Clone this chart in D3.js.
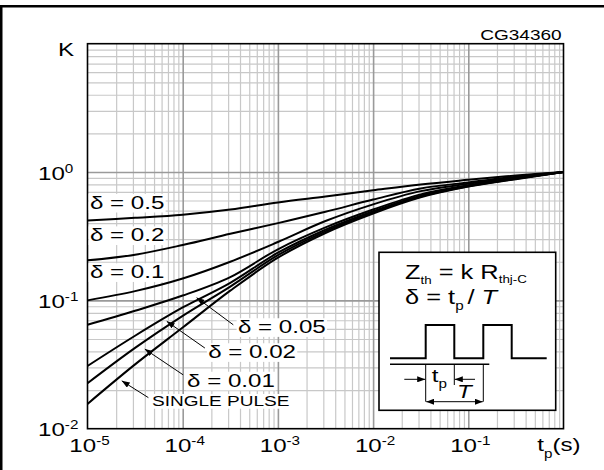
<!DOCTYPE html>
<html>
<head>
<meta charset="utf-8">
<script src="https://cdn.jsdelivr.net/npm/d3@7"></script>
<style>
  body { margin: 0; background: #fff; }
  text { font-family: "Liberation Sans", Arial, sans-serif; fill: #000; white-space: pre; }
</style>
</head>
<body>
<div id="chart"></div>
<script>
// pulse duration tp (s), half-decade steps
var tp = [1e-5, 3.16e-5, 1e-4, 3.16e-4, 1e-3, 3.16e-3, 1e-2, 3.16e-2, 1e-1, 3.16e-1, 1];

// K for each duty cycle
var k050 = [0.42, 0.44, 0.465, 0.51, 0.58, 0.645, 0.72, 0.80, 0.87, 0.94, 1.0];
var k020 = [0.205, 0.227, 0.27, 0.33, 0.40, 0.49, 0.61, 0.745, 0.83, 0.92, 1.0];
var k010 = [0.10, 0.118, 0.148, 0.20, 0.285, 0.415, 0.56, 0.71, 0.81, 0.905, 1.0];
var k005 = [0.0646, 0.083, 0.109, 0.152, 0.25, 0.37, 0.51, 0.67, 0.79, 0.895, 1.0];
var k002 = [0.0308, 0.053, 0.088, 0.137, 0.235, 0.355, 0.495, 0.655, 0.78, 0.89, 1.0];
var k001 = [0.0226, 0.0426, 0.0757, 0.128, 0.225, 0.345, 0.485, 0.645, 0.775, 0.885, 1.0];
var kSingle = [0.0156, 0.0317, 0.0614, 0.119, 0.215, 0.335, 0.475, 0.635, 0.77, 0.88, 1.0];

var seriesNames = ["δ = 0.5", "δ = 0.2", "δ = 0.1", "δ = 0.05", "δ = 0.02", "δ = 0.01", "SINGLE PULSE"];
var seriesK = [k050, k020, k010, k005, k002, k001, kSingle];

// where each curve label sits (t, K)
var labelT = [1.06e-5, 1.06e-5, 1.06e-5, 3.8e-4, 1.85e-4, 1.11e-4, 4.76e-5];
var labelK = [0.518, 0.289, 0.149, 0.0556, 0.0355, 0.0213, 0.0151];

// leader arrows for the lower curves: tail (t, K) -> tip (t, K)
var arrowFromT = [3.4e-4, 1.71e-4, 1.01e-4, 4.36e-5];
var arrowFromK = [0.0645, 0.0425, 0.0263, 0.01746];
var arrowToT = [1.40e-4, 6.8e-5, 4.0e-5, 2.29e-5];
var arrowToK = [0.105, 0.0686, 0.0417, 0.0236];

var xTicks = [1e-5, 1e-4, 1e-3, 1e-2, 1e-1];
var xTickExp = ["-5", "-4", "-3", "-2", "-1"];
var yTicks = [0.01, 0.1, 1];
var yTickExp = ["-2", "-1", "0"];

var w = 604, h = 470;
var sx = 1.27; // lettering in the reference is stretched sideways

var svg = d3.select("#chart").append("svg")
  .attr("width", w)
  .attr("height", h);

var x = d3.scaleLog().domain([1e-5, 1]).range([87.5, 563.5]);
var y = d3.scaleLog().domain([0.01, 10]).range([428.7, 43.7]);

var plotTop = y(10), plotBottom = y(0.01), plotLeft = x(1e-5), plotRight = x(1);

// outer frame (right and bottom fall outside the picture)
svg.append("rect")
  .attr("x", 1.25).attr("y", 6.25)
  .attr("width", 700).attr("height", 600)
  .attr("fill", "none")
  .attr("stroke", "#000")
  .attr("stroke-width", 2.5);

// grid
var minorX = [], minorY = [];
d3.range(-5, 0).forEach(function(e) {
  for (var m = 2; m <= 9; m++) minorX.push(m * Math.pow(10, e));
});
d3.range(-2, 1).forEach(function(e) {
  for (var m = 2; m <= 9; m++) minorY.push(m * Math.pow(10, e));
});
var decadeX = [1e-4, 1e-3, 1e-2, 1e-1];
var decadeY = [0.1, 1];

function grid(axis, values, color, width, transform) {
  var g = svg.append("g")
    .attr("transform", transform)
    .call(axis.tickValues(values).tickFormat(""));
  g.select(".domain").remove();
  g.selectAll("line").attr("stroke", color).attr("stroke-width", width);
}

var plotH = plotBottom - plotTop, plotW = plotRight - plotLeft;
grid(d3.axisBottom(x).tickSize(-plotH), minorX, "#c8c8c8", 1.2, "translate(0," + plotBottom + ")");
grid(d3.axisLeft(y).tickSize(-plotW), minorY, "#c8c8c8", 1.2, "translate(" + plotLeft + ",0)");
grid(d3.axisBottom(x).tickSize(-plotH), decadeX, "#9a9a9a", 1.6, "translate(0," + plotBottom + ")");
grid(d3.axisLeft(y).tickSize(-plotW), decadeY, "#9a9a9a", 1.6, "translate(" + plotLeft + ",0)");

svg.append("rect")
  .attr("x", plotLeft).attr("y", plotTop)
  .attr("width", plotW).attr("height", plotH)
  .attr("fill", "none")
  .attr("stroke", "#000")
  .attr("stroke-width", 1.6);

function addText(parent, px, py, anchor, size) {
  return parent.append("text")
    .attr("transform", "translate(" + px + "," + py + ") scale(" + sx + ",1)")
    .attr("text-anchor", anchor)
    .style("font-size", size + "px");
}

// tick labels
xTicks.forEach(function(v, i) {
  var t = addText(svg, x(v) + 2, 452, "middle", 19);
  t.append("tspan").text("10");
  t.append("tspan").attr("dy", -7).style("font-size", "12px").text(xTickExp[i]);
});
yTicks.forEach(function(v, i) {
  var t = addText(svg, 38, y(v) + 7.5, "start", 19);
  t.append("tspan").text("10");
  t.append("tspan").attr("dy", -7).style("font-size", "12px").text(yTickExp[i]);
});

addText(svg, 58, 56, "start", 19).text("K");
addText(svg, 561.7, 40, "end", 15).text("CG34360");

var tpLabel = addText(svg, 537.3, 450.7, "start", 19);
tpLabel.append("tspan").text("t");
tpLabel.append("tspan").attr("dy", 7).style("font-size", "12px").text("p");
tpLabel.append("tspan").attr("dy", -7).text("(s)");

// curves
var line = d3.line()
  .x(function(d) { return x(d[0]); })
  .y(function(d) { return y(d[1]); })
  .curve(d3.curveCatmullRom.alpha(0.5));

svg.selectAll(".curve")
  .data(seriesK)
  .enter()
  .append("path")
  .attr("class", "curve")
  .attr("d", function(k) { return line(tp.map(function(t, i) { return [t, k[i]]; })); })
  .attr("fill", "none")
  .attr("stroke", "#000")
  .attr("stroke-width", 2);

// arrow head
var defs = svg.append("defs");
defs.append("marker")
  .attr("id", "head")
  .attr("viewBox", "0 0 8 6")
  .attr("refX", 8).attr("refY", 3)
  .attr("markerWidth", 8).attr("markerHeight", 6)
  .attr("markerUnits", "userSpaceOnUse")
  .attr("orient", "auto-start-reverse")
  .append("path")
  .attr("d", "M0,0L8,3L0,6z")
  .attr("fill", "#000");

arrowFromT.forEach(function(t, i) {
  svg.append("line")
    .attr("x1", x(t)).attr("y1", y(arrowFromK[i]))
    .attr("x2", x(arrowToT[i])).attr("y2", y(arrowToK[i]))
    .attr("stroke", "#000")
    .attr("stroke-width", 1)
    .attr("marker-end", "url(#head)");
});

// curve labels on white patches
seriesNames.forEach(function(name, i) {
  var size = i == 6 ? 15 : 19;
  var g = svg.append("g")
    .attr("transform", "translate(" + x(labelT[i]) + "," + y(labelK[i]) + ") scale(" + sx + ",1)");
  var t = g.append("text").style("font-size", size + "px").text(name);
  var b = t.node().getBBox();
  g.insert("rect", "text")
    .attr("x", b.x - 1)
    .attr("y", -size * 0.78)
    .attr("width", b.width + 2)
    .attr("height", size * 0.98)
    .attr("fill", "#fff");
});

// inset with the definition of the pulse train
var inset = svg.append("g").attr("transform", "translate(379,252.3)");
inset.append("rect")
  .attr("width", 176.7).attr("height", 158)
  .attr("fill", "#fff")
  .attr("stroke", "#000")
  .attr("stroke-width", 1.6);

var z = addText(inset, 26, 27, "start", 20);
z.append("tspan").text("Z");
z.append("tspan").attr("dy", 4.5).style("font-size", "10.5px").text("th");
z.append("tspan").attr("dy", -4.5).text(" = k R");
z.append("tspan").attr("dy", 4).style("font-size", "10.5px").text("thj-C");

var dl = addText(inset, 26, 52, "start", 20);
dl.append("tspan").text("δ = t");
dl.append("tspan").attr("dy", 6).style("font-size", "12px").text("p");
dl.append("tspan").attr("dy", -6).attr("dx", 3).text("/ ");
dl.append("tspan").style("font-style", "italic").text("T");

var pulse = [[11, 106], [46.7, 106], [46.7, 72.7], [75.3, 72.7], [75.3, 106], [104.3, 106],
             [104.3, 72.7], [132.7, 72.7], [132.7, 106], [167.7, 106]];
inset.append("path")
  .attr("d", d3.line()(pulse))
  .attr("fill", "none")
  .attr("stroke", "#000")
  .attr("stroke-width", 2);

function seg(x1, y1, x2, y2, w) {
  return inset.append("line")
    .attr("x1", x1).attr("y1", y1).attr("x2", x2).attr("y2", y2)
    .attr("stroke", "#000").attr("stroke-width", w);
}
seg(11, 112, 110.3, 112, 1.4);
seg(46.7, 112, 46.7, 149.4, 1);
seg(75.3, 112, 75.3, 132.7, 1);
seg(104.3, 112, 104.3, 149.4, 1);
seg(25.3, 127, 46.2, 127, 1).attr("marker-end", "url(#head)");
seg(96, 127, 75.8, 127, 1).attr("marker-end", "url(#head)");
seg(47.2, 149.4, 103.8, 149.4, 1)
  .attr("marker-start", "url(#head)")
  .attr("marker-end", "url(#head)");

var tpi = addText(inset, 52.7, 129.4, "start", 19);
tpi.append("tspan").text("t");
tpi.append("tspan").attr("dy", 6).style("font-size", "12px").text("p");
addText(inset, 78, 146, "start", 19).style("font-style", "italic").text("T");
</script>
</body>
</html>
